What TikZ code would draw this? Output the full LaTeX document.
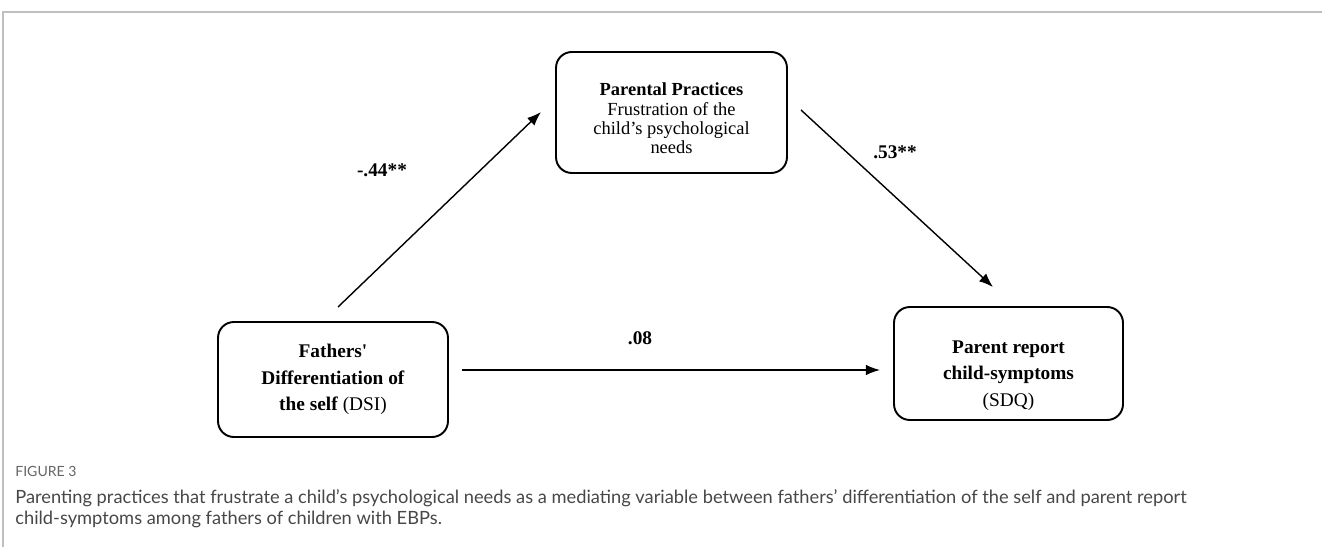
\documentclass[tikz,border=0pt]{standalone}
\usepackage{fontspec}
\setmainfont{Liberation Serif}
\newfontfamily\capfont{Lato}
\usetikzlibrary{arrows.meta}

\begin{document}
\begin{tikzpicture}[x=0.02cm, y=-0.02cm,
    varbox/.style={draw, line width=1.1pt, rounded corners=9pt, align=center,
        inner sep=0pt, font=\fontsize{11}{15}\selectfont},
    effect/.style={-{Latex[length=8pt,width=6pt]}, line width=0.8pt},
    coef/.style={font=\fontsize{11}{13}\selectfont\bfseries}]
    \useasboundingbox (0,0) rectangle (1322,547);
    \draw[black!25, line width=1pt] (1322,12) -- (3,12) -- (3,547);

    \node[varbox, minimum width=4.62cm, minimum height=2.42cm, font=\fontsize{10.5}{11}\selectfont] (par) at (671.5,112.5)
        {\rule{0pt}{14pt}\textbf{Parental Practices}\\Frustration of the\\child’s psychological\\needs};
    \node[varbox, minimum width=4.6cm, minimum height=2.3cm] (fat) at (333,379.5)
        {\textbf{Fathers\textquotesingle}\\\textbf{Differentiation of}\\\textbf{the self} (DSI)};
    \node[varbox, minimum width=4.58cm, minimum height=2.26cm] (sdq) at (1008.5,363.5)
        {\rule{0pt}{21pt}\textbf{Parent report}\\\textbf{child-symptoms}\\(SDQ)};

    \coordinate (s1) at (338,307);
    \coordinate (e1) at (541,112);
    \coordinate (s2) at (801,110);
    \coordinate (e2) at (993,287);
    \coordinate (s3) at (462,370);
    \coordinate (e3) at (880,370);
    \draw[effect] (s1) -- (e1);
    \draw[effect] (s2) -- (e2);
    \draw[effect] (s3) -- (e3);

    \node[coef] (c1) at (382,170) {-.44**};
    \node[coef] (c2) at (895,152) {.53**};
    \node[coef] (c3) at (640,338) {.08};

    \node[anchor=north west, inner sep=0pt, text=black!60,
        font=\capfont\fontsize{8}{10}\selectfont] (fig) at (15,466) {FIGURE 3};
    \node[anchor=north west, inner sep=0pt, align=left, text=black!72,
        font=\capfont\fontsize{10.4}{12.2}\selectfont] (cap) at (15,489)
        {Parenting practices that frustrate a child’s psychological needs as a mediating variable between fathers’ differentiation of the self and parent report\\
        child-symptoms among fathers of children with EBPs.};
\end{tikzpicture}
\end{document}
